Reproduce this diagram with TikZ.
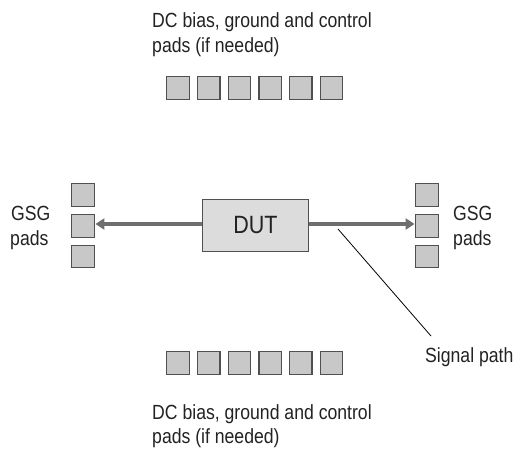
\documentclass[tikz,border=0pt]{standalone}
\usepackage{fontspec}
\setmainfont{Liberation Sans}[FakeStretch=0.86]
\usetikzlibrary{arrows.meta}
\definecolor{padfill}{HTML}{C8C8C8}
\definecolor{padedge}{HTML}{505050}
\definecolor{dutfill}{HTML}{DCDCDC}
\definecolor{sigline}{HTML}{6E6E6E}
\definecolor{txt}{HTML}{222222}
\tikzset{
  pad/.style={draw=padedge, fill=padfill, line width=1.3pt, minimum size=22.5pt, inner sep=0pt},
  dutbox/.style={draw=padedge, fill=dutfill, line width=1.3pt, minimum width=106pt, minimum height=52pt, inner sep=0pt, font=\fontsize{25}{28}\selectfont, text=txt},
  lbl/.style={font=\fontsize{20.5}{24}\selectfont, text=txt, inner sep=0pt, anchor=base west},
  sig/.style={draw=sigline, line width=4pt, -{Triangle[length=9pt,width=11pt]}, shorten >=0.5pt},
  callout/.style={draw=black, line width=0.8pt}
}
\begin{document}
\begin{tikzpicture}[x=1pt,y=-1pt]
\useasboundingbox (0,0) rectangle (525,448);
% pad rows
\foreach \i in {0,...,5} {
  \node[pad] (t\i) at ({178+30.7*\i},88) {};
  \node[pad] (b\i) at ({178+30.7*\i},363) {};
}
% GSG pads
\node[pad] (l1) at (83,195) {};
\node[pad] (l2) at (83,226) {};
\node[pad] (l3) at (83,256.5) {};
\node[pad] (r1) at (427,195) {};
\node[pad] (r2) at (427,226) {};
\node[pad] (r3) at (427,256.5) {};
% DUT
\node[dutbox] (dut) at (255.5,225.5) {DUT};
% signal arrows
\draw[sig] (dut.east |- 0,224) -- (r2.west |- 0,224);
\draw[sig] (dut.west |- 0,224) -- (l2.east |- 0,224);
% callout
\coordinate (sp) at (338,229);
\coordinate (spend) at (431,336);
\draw[callout] (sp) -- (spend);
% labels
\node[lbl] (top1) at (152,27) {DC bias, ground and control};
\node[lbl] (top2) at (152,52) {pads (if needed)};
\node[lbl] (bot1) at (152,419.5) {DC bias, ground and control};
\node[lbl] (bot2) at (152,443) {pads (if needed)};
\node[lbl] (lg1) at (11,220) {GSG};
\node[lbl] (lg2) at (10,245) {pads};
\node[lbl] (rg1) at (453,220) {GSG};
\node[lbl] (rg2) at (453,245) {pads};
\node[lbl] (spl) at (425,362) {Signal path};
\end{tikzpicture}
\end{document}
